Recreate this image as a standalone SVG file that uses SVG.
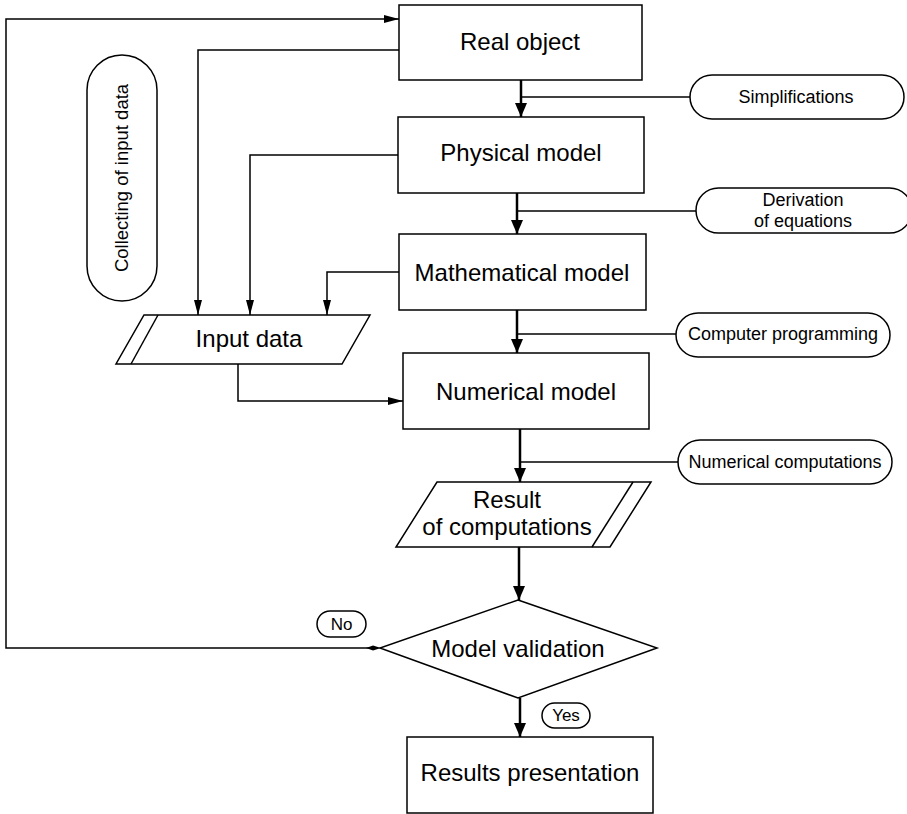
<svg xmlns="http://www.w3.org/2000/svg" width="907" height="814" viewBox="0 0 907 814">
<defs>
<style>
.box{fill:#fff;stroke:#000;stroke-width:1.5}
.ln{fill:none;stroke:#000;stroke-width:1.5}
.main{fill:none;stroke:#000;stroke-width:2.5}
.t{font-family:"Liberation Sans",Arial,sans-serif;font-size:24px;text-anchor:middle;fill:#000}
.s{font-family:"Liberation Sans",Arial,sans-serif;font-size:18px;text-anchor:middle;fill:#000}
.y{font-family:"Liberation Sans",Arial,sans-serif;font-size:17px;text-anchor:middle;fill:#000}
</style>
<marker id="ab" viewBox="0 0 14 12" refX="14" refY="6" markerWidth="14" markerHeight="12" markerUnits="userSpaceOnUse" orient="auto">
<path d="M0,0 L14,6 L0,12 Z" fill="#000"/>
</marker>
<marker id="as" viewBox="0 0 15 8" refX="15" refY="4" markerWidth="15" markerHeight="8" markerUnits="userSpaceOnUse" orient="auto">
<path d="M0,0 L15,4 L0,8 Z" fill="#000"/>
</marker>
</defs>
<rect width="907" height="814" fill="#fff"/>
<g id="connectors">
<path class="main" d="M521,80 V117" marker-end="url(#ab)"/>
<path class="ln" d="M521,97 H690"/>
<path class="main" d="M517,193 V234" marker-end="url(#ab)"/>
<path class="ln" d="M517,211 H696"/>
<path class="main" d="M517,310 V353" marker-end="url(#ab)"/>
<path class="ln" d="M517,334 H676"/>
<path class="main" d="M520,429 V482" marker-end="url(#ab)"/>
<path class="ln" d="M520,462 H678"/>
<path class="main" d="M519,547 V600" marker-end="url(#ab)"/>
<path class="main" d="M520,698 V737" marker-end="url(#ab)"/>
<path class="ln" d="M373,648 H6 V19 H399" marker-end="url(#as)"/>
<path d="M366,648 L373,645.5 L381,648 L373,650.5 Z" fill="#000"/>
<path class="ln" d="M399,50 H198 V315" marker-end="url(#as)"/>
<path class="ln" d="M398,155 H250 V315" marker-end="url(#as)"/>
<path class="ln" d="M399,272 H327 V315" marker-end="url(#as)"/>
<path class="ln" d="M238,364 V401 H403" marker-end="url(#as)"/>
</g>
<g id="real-object">
<rect class="box" x="399" y="5" width="243" height="75"/>
<text class="t" x="520" y="50">Real object</text>
</g>
<g id="simplifications">
<rect class="box" x="690" y="75" width="214" height="44" rx="22"/>
<text class="s" x="796" y="103">Simplifications</text>
</g>
<g id="physical-model">
<rect class="box" x="398" y="117" width="246" height="76"/>
<text class="t" x="521" y="161">Physical model</text>
</g>
<g id="derivation">
<rect class="box" x="696" y="188" width="216" height="45" rx="22.5"/>
<text class="s" x="803" y="206">Derivation</text>
<text class="s" x="803" y="227">of equations</text>
</g>
<g id="mathematical-model">
<rect class="box" x="399" y="234" width="247" height="76"/>
<text class="t" x="522" y="281">Mathematical model</text>
</g>
<g id="computer-programming">
<rect class="box" x="676" y="313" width="214" height="44" rx="22"/>
<text class="s" x="783" y="340">Computer programming</text>
</g>
<g id="numerical-model">
<rect class="box" x="403" y="353" width="246" height="76"/>
<text class="t" x="526" y="400">Numerical model</text>
</g>
<g id="numerical-computations">
<rect class="box" x="678" y="440" width="214" height="44" rx="22"/>
<text class="s" x="785" y="468">Numerical computations</text>
</g>
<g id="collecting">
<rect class="box" x="87" y="55" width="70" height="246" rx="35"/>
<text class="s" transform="translate(128,178) rotate(-90)" style="font-size:18.5px">Collecting of input data</text>
</g>
<g id="input-data">
<path class="box" d="M144,315 H370 L342,364 H116 Z"/>
<path class="ln" d="M158,315 L131,364"/>
<text class="t" x="249" y="347">Input data</text>
</g>
<g id="result">
<path class="box" d="M437,482 H651 L610,547 H396 Z"/>
<path class="ln" d="M633,482 L592,547"/>
<text class="t" x="507" y="508">Result</text>
<text class="t" x="507" y="535">of computations</text>
</g>
<g id="model-validation">
<path class="box" d="M518,600 L657,648 L518,698 L380,648 Z"/>
<text class="t" x="518" y="657">Model validation</text>
</g>
<g id="no-label">
<rect class="box" x="317" y="611" width="49" height="26" rx="13"/>
<text class="y" x="341.5" y="630">No</text>
</g>
<g id="yes-label">
<rect class="box" x="542" y="703" width="48" height="25" rx="12.5"/>
<text class="y" x="566" y="721">Yes</text>
</g>
<g id="results-presentation">
<rect class="box" x="407" y="737" width="246" height="76"/>
<text class="t" x="530" y="781">Results presentation</text>
</g>
</svg>
